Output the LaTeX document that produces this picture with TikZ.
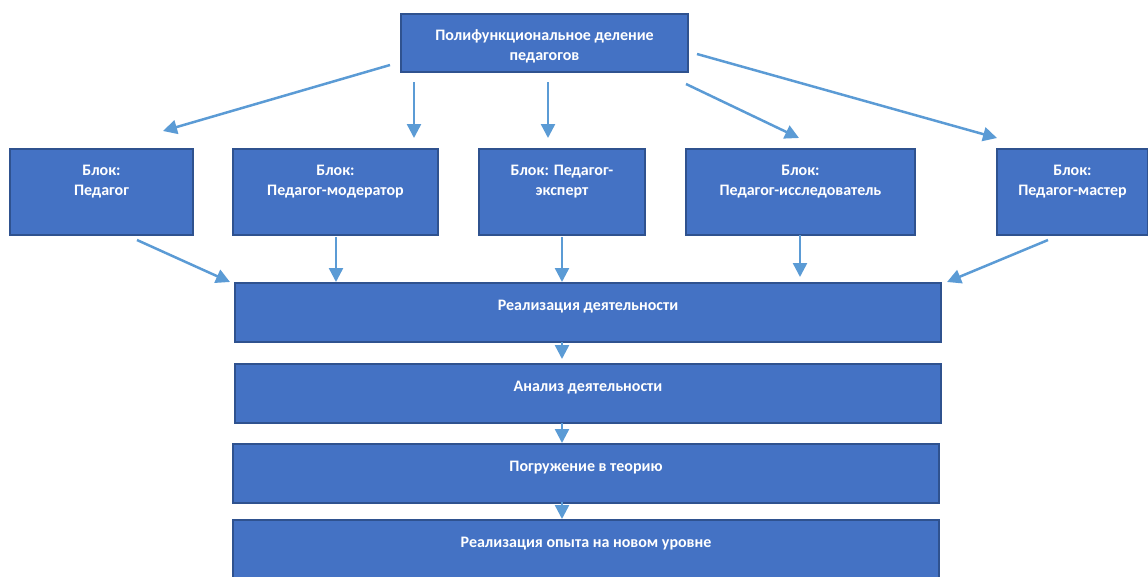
\documentclass[tikz,border=0pt]{standalone}
\usepackage{fontspec}
\setmainfont{Carlito}
\usepackage{tikz}
\usepackage{xcolor}
\usetikzlibrary{positioning,calc,arrows.meta}
\definecolor{boxfill}{HTML}{4472C4}
\definecolor{boxline}{HTML}{2F528F}
\definecolor{arrline}{HTML}{5B9BD5}
\begin{document}
\begin{tikzpicture}[x=1pt,y=-1pt]
\tikzstyle{block}=[draw=boxline,fill=boxfill,line width=2pt,text=white,font=\bfseries\fontsize{16}{20}\selectfont,align=center,anchor=north,inner xsep=4pt,inner ysep=0pt,outer sep=0pt,text height=27pt]
\tikzstyle{twoline}=[text height=46pt]
\tikzstyle{arr}=[draw=arrline,line width=2.5pt,-{Triangle[length=14pt,width=14pt]}]
\useasboundingbox (0,0) rectangle (1148,576);
\node [block,twoline,minimum width=287pt,text depth=12pt] (top) at (544.5,14) {Полифункциональное деление\\педагогов};
\node [block,twoline,minimum width=183pt,text depth=40pt] (ped) at (101.5,149) {Блок:\\Педагог};
\node [block,twoline,minimum width=205pt,text depth=40pt] (mod) at (335.5,149) {Блок:\\Педагог-модератор};
\node [block,twoline,minimum width=166pt,text depth=40pt] (exp) at (562,149) {Блок: Педагог-\\эксперт};
\node [block,twoline,minimum width=229pt,text depth=40pt] (iss) at (800.5,149) {Блок:\\Педагог-исследователь};
\node [block,twoline,minimum width=151pt,text depth=40pt] (mas) at (1072.5,149) {Блок:\\Педагог-мастер};
\node [block,minimum width=706pt,text depth=32pt] (real) at (588,283) {Реализация деятельности};
\node [block,minimum width=706pt,text depth=32pt] (anal) at (588,364) {Анализ деятельности};
\node [block,minimum width=706pt,text depth=32pt] (immer) at (586,444) {Погружение в теорию};
\node [block,minimum width=706pt,text depth=33pt] (newlvl) at (586,520) {Реализация опыта на новом уровне};
\draw [arr] ($(top.south west)+(-11,-7)$) -- ($(ped.north)+(61.5,-18)$);
\draw [arr] ($(top.south west)+(13,10)$) -- ($(mod.north)+(78.5,-11)$);
\draw [arr] ($(top.south)+(3.5,10)$) -- ($(exp.north)+(-14,-11)$);
\draw [arr] ($(top.south east)+(-2,12)$) -- ($(iss.north)+(-1.5,-11)$);
\draw [arr] ($(top.east)+(9,11)$) -- ($(mas.north west)+(0,-11)$);
\draw [arr] ($(ped.south)+(35.5,5)$) -- ($(real.north west)+(-5,-1)$);
\draw [arr] ($(mod.south)+(0.5,2)$) -- ($(real.north west)+(101,-1)$);
\draw [arr] ($(exp.south)+(0,2)$) -- ($(real.north)+(-26,-1)$);
\draw [arr] ($(iss.south)+(-0.5,0)$) -- ($(real.north)+(212,-6)$);
\draw [arr] ($(mas.south)+(-24.5,5)$) -- ($(real.north east)+(6,-1)$);
\draw [arr] ($(real.south)+(-26,0)$) -- ($(anal.north)+(-26,-5)$);
\draw [arr] ($(anal.south)+(-26,0)$) -- ($(immer.north)+(-24,-1)$);
\draw [arr] ($(immer.south)+(-24,-1)$) -- ($(newlvl.north)+(-24,-1)$);
\end{tikzpicture}
\end{document}
